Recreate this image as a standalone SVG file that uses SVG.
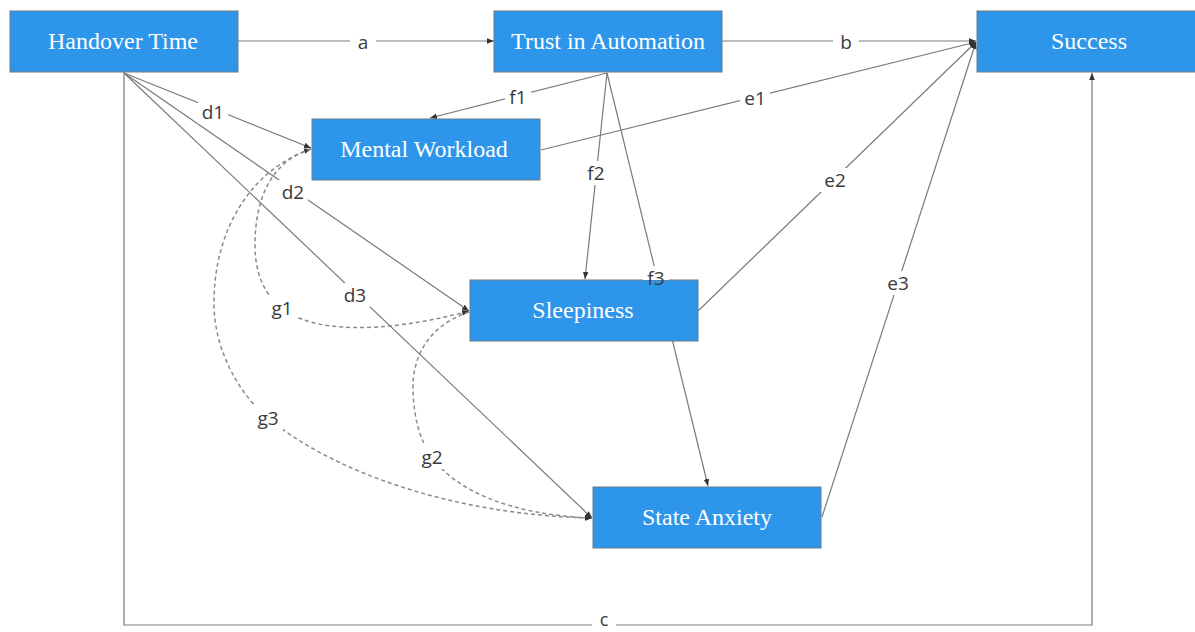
<svg xmlns="http://www.w3.org/2000/svg" width="1195" height="632" viewBox="0 0 1195 632">
<style>
.box{fill:#2e96ea;stroke:#6a7a88;stroke-width:1}
.nt{font-family:"Liberation Serif",serif;font-size:24px;fill:#fff;text-anchor:middle}
.ln{fill:none;stroke:#7a7a7a;stroke-width:1.2}
.ds{fill:none;stroke:#8a8a8a;stroke-width:1.5;stroke-dasharray:4 3}
.lb{font-family:"Open Sans","Noto Sans",sans-serif;font-size:19px;fill:#3a3a3a;text-anchor:middle}
.bg{fill:#fff}
</style>
<defs>
<marker id="ar" viewBox="0 0 10 10" refX="10" refY="5" markerWidth="7" markerHeight="7" orient="auto-start-reverse" markerUnits="userSpaceOnUse">
<path d="M0,1 L10,5 L0,9 z" fill="#333"/>
</marker>
</defs>
<rect width="1195" height="632" fill="#fff"/>
<g id="connectors">
<path class="ln" d="M238,41 H494" marker-end="url(#ar)"/>
<path class="ln" d="M722,41 H976" marker-end="url(#ar)"/>
<path class="ln" d="M124,72 V625 H1092 V73" marker-end="url(#ar)"/>
<path class="ln" d="M124,73 L311,148" marker-end="url(#ar)"/>
<path class="ln" d="M124,73 L469,311" marker-end="url(#ar)"/>
<path class="ln" d="M124,73 L592,518" marker-end="url(#ar)"/>
<path class="ln" d="M607,73 L430,118" marker-end="url(#ar)"/>
<path class="ln" d="M607,73 L585,279" marker-end="url(#ar)"/>
<path class="ln" d="M607,73 L708,486" marker-end="url(#ar)"/>
<path class="ln" d="M541,150 L976,42" marker-end="url(#ar)"/>
<path class="ln" d="M698,311 L976,42" marker-end="url(#ar)"/>
<path class="ln" d="M822,517 L976,42" marker-end="url(#ar)"/>
<path class="ds" d="M311,149 C270,162 255,200 255,245 C255,275 265,295 282,308 C310,332 380,335 469,311" marker-start="url(#ar)" marker-end="url(#ar)"/>
<path class="ds" d="M311,149 C250,170 215,230 214,300 C213,350 240,395 268,418 C330,470 450,515 592,518" marker-end="url(#ar)"/>
<path class="ds" d="M469,312 C430,325 412,355 413,390 C414,420 420,440 432,457 C455,490 510,515 592,518" marker-end="url(#ar)"/>
<g id="labels">
<rect class="bg" x="350" y="30" width="26" height="24"/><text class="lb" x="363" y="49">a</text>
<rect class="bg" x="833" y="30" width="26" height="24"/><text class="lb" x="846" y="49">b</text>
<rect class="bg" x="592" y="612" width="24" height="20"/><text class="lb" x="604" y="626" style="font-size:18px">c</text>
<rect class="bg" x="198" y="100" width="30" height="24"/><text class="lb" x="213" y="119">d1</text>
<rect class="bg" x="278" y="180" width="30" height="24"/><text class="lb" x="293" y="199">d2</text>
<rect class="bg" x="340" y="283" width="30" height="24"/><text class="lb" x="355" y="302">d3</text>
<rect class="bg" x="505" y="85" width="26" height="24"/><text class="lb" x="518" y="104">f1</text>
<rect class="bg" x="583" y="161" width="26" height="24"/><text class="lb" x="596" y="180">f2</text>
<rect class="bg" x="740" y="86" width="30" height="24"/><text class="lb" x="755" y="105">e1</text>
<rect class="bg" x="820" y="168" width="30" height="24"/><text class="lb" x="835" y="187">e2</text>
<rect class="bg" x="883" y="271" width="30" height="24"/><text class="lb" x="898" y="290">e3</text>
<rect class="bg" x="267" y="296" width="30" height="24"/><text class="lb" x="282" y="315">g1</text>
<rect class="bg" x="417" y="445" width="30" height="24"/><text class="lb" x="432" y="464">g2</text>
<rect class="bg" x="253" y="406" width="30" height="24"/><text class="lb" x="268" y="425">g3</text>
</g>
</g>
<g id="n-handover"><rect class="box" x="10" y="11" width="228" height="61"/><text class="nt" x="123" y="49">Handover Time</text></g>
<g id="n-trust"><rect class="box" x="494" y="11" width="228" height="61"/><text class="nt" x="608" y="49">Trust in Automation</text></g>
<g id="n-success"><rect class="box" x="977" y="11" width="224" height="61"/><text class="nt" x="1089" y="49">Success</text></g>
<g id="n-mental"><rect class="box" x="312" y="119" width="228" height="61"/><text class="nt" x="424" y="157">Mental Workload</text></g>
<g id="n-sleep"><rect class="box" x="470" y="280" width="228" height="61"/><text class="nt" x="583" y="318">Sleepiness</text></g>
<g id="n-anxiety"><rect class="box" x="593" y="487" width="228" height="61"/><text class="nt" x="707" y="525">State Anxiety</text></g>
<g id="label-f3"><rect class="bg" x="643" y="266" width="26" height="14"/><text class="lb" x="656" y="285">f3</text></g>
</svg>
